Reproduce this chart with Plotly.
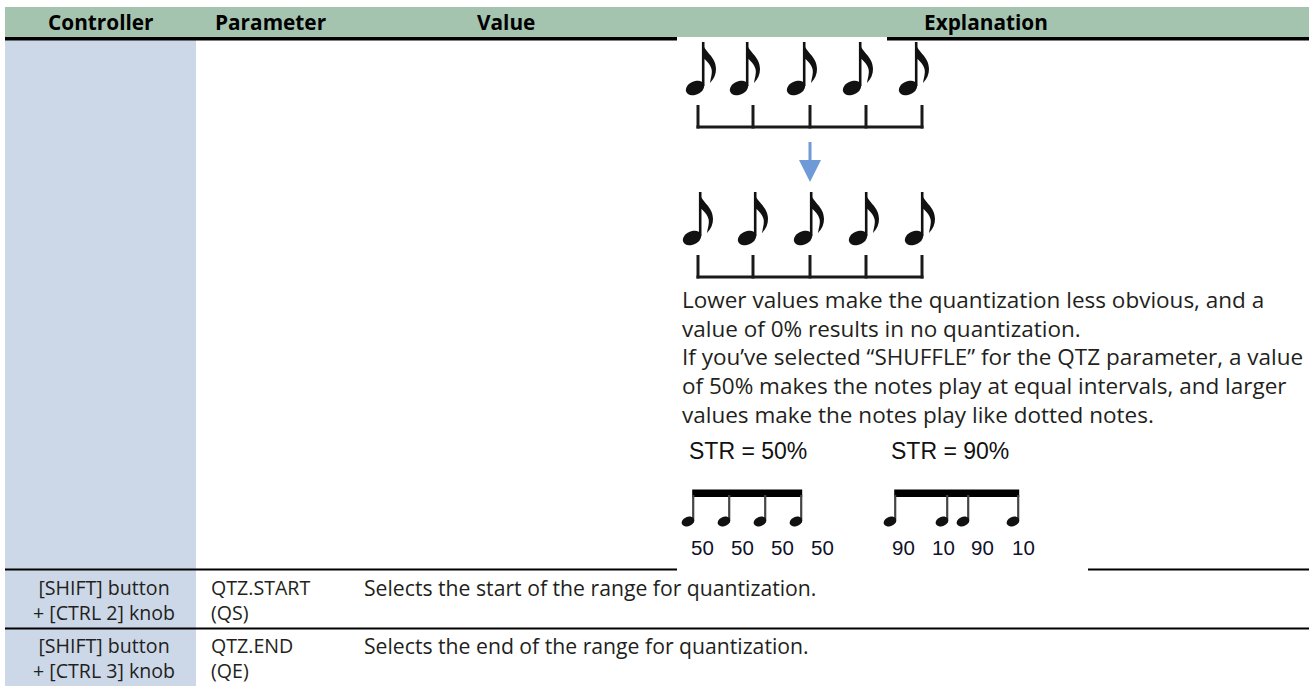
import numpy as np
import plotly.graph_objects as go

W, H = 1309, 686

# ---------------- data ----------------
headers = ["Controller", "Parameter", "Value", "Explanation"]
controllers = [["[SHIFT] button", "+ [CTRL 2] knob"], ["[SHIFT] button", "+ [CTRL 3] knob"]]
parameters = [["QTZ.START", "(QS)"], ["QTZ.END", "(QE)"]]
explanations = ["Selects the start of the range for quantization.",
                "Selects the end of the range for quantization."]
expl_lines = [
    "Lower values make the quantization less obvious, and a",
    "value of 0% results in no quantization.",
    "If you\u2019ve selected \u201cSHUFFLE\u201d for the QTZ parameter, a value",
    "of 50% makes the notes play at equal intervals, and larger",
    "values make the notes play like dotted notes.",
]
str_labels = ["STR = 50%", "STR = 90%"]
str_values = [[50, 50, 50, 50], [90, 10, 90, 10]]

# ---------------- layout constants ----------------
GREEN = "#a5c4b0"
BLUE = "#ccd8e8"
INK = "#231f20"
ARROW = "#6f9ad8"
FONT = "Open Sans"

header_x = [101, 270, 506, 986]
row_mid = [599.5, 657.5]
expl_y = [299, 328, 356, 385, 414]

grid_x = [698, 753, 810, 866, 922]
upper_heads = [695, 739, 796, 852, 908]
lower_heads = [692, 747, 803, 858, 914]

str_label_x = [687, 889]
str_head_x = [[688, 724, 760, 796], [890, 942, 963, 1013]]
str_num_x = [[702, 742, 782, 822], [903, 943, 982, 1023]]

shapes = []
ann = []


def rect(x0, y0, x1, y1, color):
    shapes.append(dict(type="rect", xref="x", yref="y", x0=x0, x1=x1, y0=y0, y1=y1,
                       fillcolor=color, line=dict(width=0), layer="above"))


def line(x0, y0, x1, y1, color, w):
    shapes.append(dict(type="line", xref="x", yref="y", x0=x0, x1=x1, y0=y0, y1=y1,
                       line=dict(color=color, width=w), layer="above"))


def path(d, color):
    shapes.append(dict(type="path", xref="x", yref="y", path=d, fillcolor=color,
                       line=dict(width=0), layer="above"))


def ellipse_path(cx, cy, rx, ry, ang_deg):
    t = np.linspace(0, 2 * np.pi, 28, endpoint=False)
    a = np.deg2rad(ang_deg)
    xs = cx + rx * np.cos(t) * np.cos(a) - ry * np.sin(t) * np.sin(a)
    ys = cy + rx * np.cos(t) * np.sin(a) + ry * np.sin(t) * np.cos(a)
    pts = " L ".join(f"{x:.2f},{y:.2f}" for x, y in zip(xs, ys))
    return "M " + pts + " Z"


def flag_path(sx, sy):
    p = [(0, 0), (2, 10), (14, 14), (14, 27), (14, 32), (12, 37), (8, 41),
         (9, 35), (10.5, 31), (9.5, 27), (7.5, 20), (2, 17), (0, 15)]
    q = [(sx + x, sy + y) for x, y in p]
    d = f"M {q[0][0]},{q[0][1]} C {q[1][0]},{q[1][1]} {q[2][0]},{q[2][1]} {q[3][0]},{q[3][1]} "
    d += f"C {q[4][0]},{q[4][1]} {q[5][0]},{q[5][1]} {q[6][0]},{q[6][1]} "
    d += f"C {q[7][0]},{q[7][1]} {q[8][0]},{q[8][1]} {q[9][0]},{q[9][1]} "
    d += f"C {q[10][0]},{q[10][1]} {q[11][0]},{q[11][1]} {q[12][0]},{q[12][1]} Z"
    return d


def eighth_note(cx, cy, stem_top):
    path(ellipse_path(cx, cy, 9.6, 6.7, -25), "#111111")
    sx = cx + 8.2
    line(sx, cy - 2, sx, stem_top, "#111111", 2.6)
    path(flag_path(sx - 1.2, stem_top), "#111111")


# ---------------- table structure ----------------
rect(5, 7, W, 37, GREEN)
rect(5, 40, 196, H, BLUE)
# header rule (broken by the picture)
rect(5, 37, 677, 40.5, "#000000")
rect(887, 37, W, 40.5, "#000000")
# row rules
rect(5, 568.5, 677, 570.5, "#000000")
rect(1088, 568.5, W, 570.5, "#000000")
rect(5, 627.5, W, 629.5, "#000000")

for h, x in zip(headers, header_x):
    ann.append(dict(x=x, y=22, text=f"<b>{h}</b>", xanchor="center", yanchor="middle",
                    font=dict(family=FONT, size=20.8, color="#000000")))

for i in range(2):
    ann.append(dict(x=104, y=row_mid[i], text="<br>".join(controllers[i]), xanchor="center",
                    yanchor="middle", align="center",
                    font=dict(family=FONT, size=19.6, color=INK)))
    ann.append(dict(x=209, y=row_mid[i], text="<br>".join(parameters[i]), xanchor="left",
                    yanchor="middle", align="left",
                    font=dict(family=FONT, size=19.6, color=INK)))
    ann.append(dict(x=362, y=row_mid[i] - 12.5, text=explanations[i], xanchor="left",
                    yanchor="middle", font=dict(family=FONT, size=21.2, color=INK)))

for t, y in zip(expl_lines, expl_y):
    ann.append(dict(x=680, y=y, text=t, xanchor="left", yanchor="middle",
                    font=dict(family=FONT, size=22.5, color=INK)))

# ---------------- notation: before / after quantize ----------------
for cx in upper_heads:
    eighth_note(cx, 88, 42)
for cx in lower_heads:
    eighth_note(cx, 238, 192)

for top, bot in [(105, 127), (255, 277)]:
    for gx in grid_x:
        line(gx, top, gx, bot + 1.5, "#1a1a1a", 3)
    line(grid_x[0] - 1.5, bot, grid_x[-1] + 1.5, bot, "#1a1a1a", 3.2)

# arrow
line(810, 142, 810, 162, ARROW, 3)
path("M 799,160 L 821,160 L 810,182 Z", ARROW)

# ---------------- shuffle examples ----------------
for k in range(2):
    ann.append(dict(x=str_label_x[k], y=451, text=str_labels[k], xanchor="left",
                    yanchor="middle", font=dict(family="Liberation Sans", size=23, color="#111111")))
    hx = str_head_x[k]
    stems = [x + 5.2 for x in hx]
    rect(stems[0] - 1, 489.5, stems[-1] + 1, 497, "#000000")
    for x, sx in zip(hx, stems):
        line(sx, 519, sx, 495, "#444444", 2.2)
        path(ellipse_path(x, 521.5, 6.6, 4.6, -22), "#111111")
    for v, nx in zip(str_values[k], str_num_x[k]):
        ann.append(dict(x=nx, y=547, text=str(v), xanchor="center", yanchor="middle",
                        font=dict(family="Liberation Sans", size=20.5, color="#10102a")))

for a in ann:
    a.update(xref="x", yref="y", showarrow=False)

fig = go.Figure()
fig.add_trace(go.Scatter(x=[0, W], y=[0, H], mode="markers", marker=dict(opacity=0),
                         hoverinfo="skip", showlegend=False))
fig.update_layout(
    width=W, height=H, margin=dict(l=0, r=0, t=0, b=0),
    paper_bgcolor="white", plot_bgcolor="white",
    xaxis=dict(range=[0, W], visible=False, fixedrange=True),
    yaxis=dict(range=[H, 0], visible=False, fixedrange=True),
    shapes=shapes, annotations=ann, showlegend=False,
)
fig.write_html(
    "out.html",
    config={"displayModeBar": False},
    post_script="document.body.style.margin='0';document.body.style.padding='0';"
                "document.body.style.overflow='hidden';"
                "document.documentElement.style.overflow='hidden';",
)
